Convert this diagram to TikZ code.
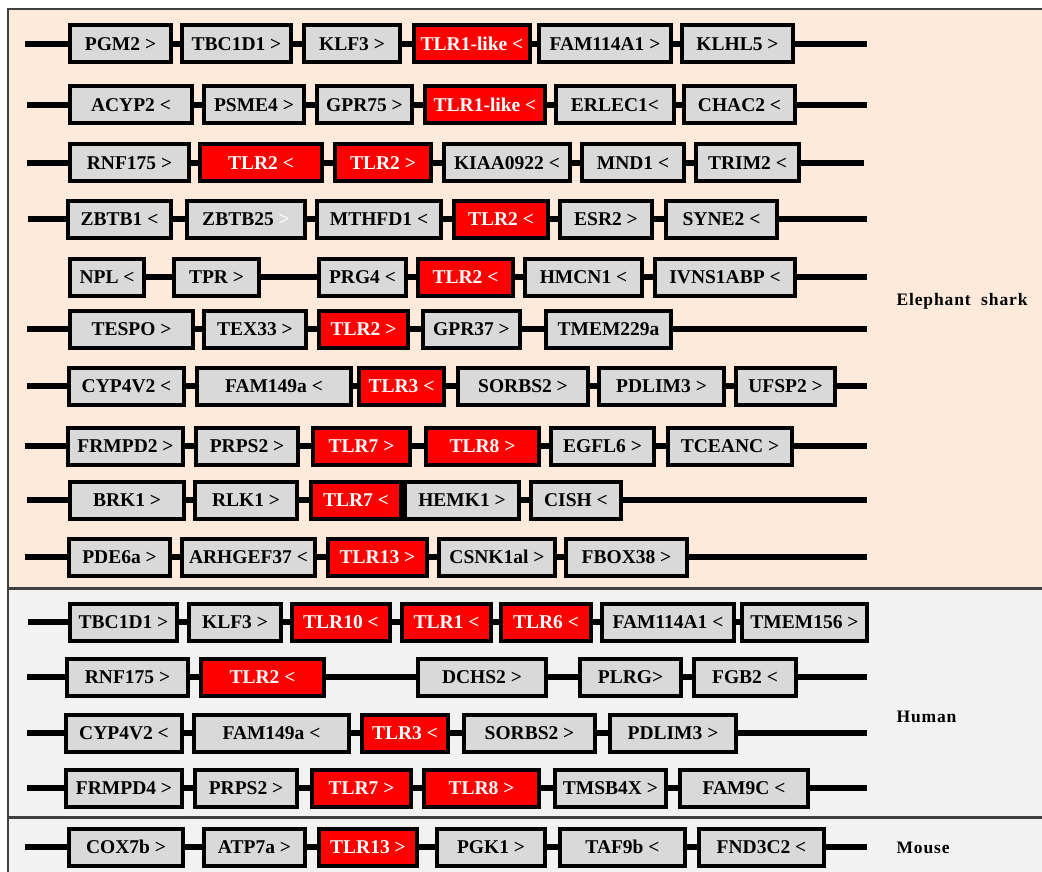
\documentclass[tikz,border=0pt]{standalone}
\usepackage{fontspec}
\setmainfont{Liberation Serif}
\usetikzlibrary{positioning}
\definecolor{sharkbg}{HTML}{FDEADA}
\definecolor{humanbg}{HTML}{F2F2F2}
\definecolor{genegray}{HTML}{D9D9D9}
\definecolor{tlrred}{HTML}{FF0000}

\begin{document}
\begin{tikzpicture}[x=1pt,y=-1pt]
\tikzstyle{gene}=[shape=rectangle,draw=black,line width=4pt,fill=genegray,text=black,inner sep=0pt,minimum height=37pt,font=\fontsize{19.5}{21}\selectfont\bfseries]
\tikzstyle{tlr}=[gene,fill=tlrred,text=white]
\tikzstyle{chrom}=[line width=5.5pt]
\tikzstyle{panel}=[draw=black!75,line width=1.2pt]
\tikzstyle{species}=[anchor=west,font=\fontsize{17.5}{20}\selectfont\bfseries\addfontfeature{LetterSpace=5}]

\useasboundingbox (0,0) rectangle (1042,872);
\path[panel,fill=sharkbg] (8,9) rectangle (1060,588);
\path[panel,fill=humanbg] (8,589) rectangle (1060,817);
\path[panel,fill=humanbg] (8,818) rectangle (1060,890);

% elephant shark
\coordinate (e1s) at (25,44); \coordinate (e1e) at (867,44);
\node[gene] (e1a) at (120.5,44) [minimum width=101pt] {PGM2 >};
\node[gene] (e1b) at (236.5,44) [minimum width=109pt] {TBC1D1 >};
\node[gene] (e1c) at (352,44)   [minimum width=96pt]  {KLF3 >};
\node[tlr]  (e1d) at (472,44)   [minimum width=116pt] {TLR1-like <};
\node[gene] (e1f) at (605,44)   [minimum width=132pt] {FAM114A1 >};
\node[gene] (e1g) at (737.5,44) [minimum width=111pt] {KLHL5 >};

\coordinate (e2s) at (27,105); \coordinate (e2e) at (867,105);
\node[gene] (e2a) at (131,105)   [minimum width=122pt] {ACYP2 <};
\node[gene] (e2b) at (254,105)   [minimum width=100pt] {PSME4 >};
\node[gene] (e2c) at (364.5,105) [minimum width=95pt]  {GPR75 >};
\node[tlr]  (e2d) at (485,105)   [minimum width=120pt] {TLR1-like <};
\node[gene] (e2f) at (615,105)   [minimum width=118pt] {ERLEC1<};
\node[gene] (e2g) at (739.5,105) [minimum width=111pt] {CHAC2 <};

\coordinate (e3s) at (27,163); \coordinate (e3e) at (864,163);
\node[gene] (e3a) at (129.5,163) [minimum width=119pt] {RNF175 >};
\node[tlr]  (e3b) at (261,163)   [minimum width=122pt] {TLR2 <};
\node[tlr]  (e3c) at (383,163)   [minimum width=96pt]  {TLR2 >};
\node[gene] (e3d) at (507,163)   [minimum width=126pt] {KIAA0922 <};
\node[gene] (e3f) at (633,163)   [minimum width=102pt] {MND1 <};
\node[gene] (e3g) at (747.5,163) [minimum width=103pt] {TRIM2 <};

\coordinate (e4s) at (28,219); \coordinate (e4e) at (867,219);
\node[gene] (e4a) at (119.5,219) [minimum width=103pt] {ZBTB1 <};
\node[gene] (e4b) at (246,219)   [minimum width=118pt] {ZBTB25 \textcolor{white}{>}};
\node[gene] (e4c) at (379,219)   [minimum width=124pt] {MTHFD1 <};
\node[tlr]  (e4d) at (501,219)   [minimum width=94pt]  {TLR2 <};
\node[gene] (e4f) at (606,219)   [minimum width=92pt]  {ESR2 >};
\node[gene] (e4g) at (721.5,219) [minimum width=111pt] {SYNE2 <};

\coordinate (e5e) at (867,277);
\node[gene] (e5a) at (107,277)   [minimum width=74pt]  {NPL <};
\node[gene] (e5b) at (216.5,277) [minimum width=85pt]  {TPR >};
\node[gene] (e5c) at (362.5,277) [minimum width=87pt]  {PRG4 <};
\node[tlr]  (e5d) at (465.5,277) [minimum width=95pt]  {TLR2 <};
\node[gene] (e5f) at (583.5,277) [minimum width=117pt] {HMCN1 <};
\node[gene] (e5g) at (725,277)   [minimum width=140pt] {IVNS1ABP <};

\coordinate (e6s) at (27,329); \coordinate (e6e) at (867,329);
\node[gene] (e6a) at (131.5,329) [minimum width=123pt] {TESPO >};
\node[gene] (e6b) at (255,329)   [minimum width=102pt] {TEX33 >};
\node[tlr]  (e6c) at (363.5,329) [minimum width=89pt]  {TLR2 >};
\node[gene] (e6d) at (471.5,329) [minimum width=97pt]  {GPR37 >};
\node[gene] (e6f) at (608.5,329) [minimum width=125pt] {TMEM229a};

\coordinate (e7s) at (27,386); \coordinate (e7e) at (867,386);
\node[gene] (e7a) at (126.5,386) [minimum width=115pt] {CYP4V2 <};
\node[gene] (e7b) at (274,386)   [minimum width=154pt] {FAM149a <};
\node[tlr]  (e7c) at (401.5,386) [minimum width=85pt]  {TLR3 <};
\node[gene] (e7d) at (523,386)   [minimum width=130pt] {SORBS2 >};
\node[gene] (e7f) at (661.5,386) [minimum width=125pt] {PDLIM3 >};
\node[gene] (e7g) at (785.5,386) [minimum width=99pt]  {UFSP2 >};

\coordinate (e8s) at (25,446); \coordinate (e8e) at (867,446);
\node[gene] (e8a) at (125.5,446) [minimum width=115pt] {FRMPD2 >};
\node[gene] (e8b) at (247,446)   [minimum width=102pt] {PRPS2 >};
\node[tlr]  (e8c) at (361.5,446) [minimum width=97pt]  {TLR7 >};
\node[tlr]  (e8d) at (482.5,446) [minimum width=113pt] {TLR8 >};
\node[gene] (e8f) at (602.5,446) [minimum width=103pt] {EGFL6 >};
\node[gene] (e8g) at (730,446)   [minimum width=124pt] {TCEANC >};

\coordinate (e9s) at (27,500); \coordinate (e9e) at (867,500);
\node[gene] (e9a) at (127,500)   [minimum width=114pt] {BRK1 >};
\node[gene] (e9b) at (246,500)   [minimum width=102pt] {RLK1 >};
\node[tlr]  (e9c) at (356,500)   [minimum width=90pt]  {TLR7 <};
\node[gene] (e9d) at (462,500)   [minimum width=114pt] {HEMK1 >};
\node[gene] (e9f) at (576,500)   [minimum width=90pt]  {CISH <};

\coordinate (e10s) at (25,557); \coordinate (e10e) at (867,557);
\node[gene] (e10a) at (119.5,557) [minimum width=101pt] {PDE6a >};
\node[gene] (e10b) at (248.5,557) [minimum width=133pt] {ARHGEF37 <};
\node[tlr]  (e10c) at (377.5,557) [minimum width=99pt]  {TLR13 >};
\node[gene] (e10d) at (497,557)   [minimum width=116pt] {CSNK1al >};
\node[gene] (e10f) at (626.5,557) [minimum width=121pt] {FBOX38 >};

% human
\coordinate (h1s) at (28,622);
\node[gene] (h1a) at (123.5,622) [minimum width=107pt] {TBC1D1 >};
\node[gene] (h1b) at (235,622)   [minimum width=92pt]  {KLF3 >};
\node[tlr]  (h1c) at (341,622)   [minimum width=98pt]  {TLR10 <};
\node[tlr]  (h1d) at (446.5,622) [minimum width=89pt]  {TLR1 <};
\node[tlr]  (h1f) at (546,622)   [minimum width=90pt]  {TLR6 <};
\node[gene] (h1g) at (668,622)   [minimum width=132pt] {FAM114A1 <};
\node[gene] (h1h) at (804.5,622) [minimum width=125pt] {TMEM156 >};

\coordinate (h2s) at (27,677); \coordinate (h2e) at (867,677);
\node[gene] (h2a) at (127.5,677) [minimum width=121pt] {RNF175 >};
\node[tlr]  (h2b) at (262.5,677) [minimum width=123pt] {TLR2 <};
\node[gene] (h2c) at (482,677)   [minimum width=128pt] {DCHS2 >};
\node[gene] (h2d) at (630.5,677) [minimum width=101pt] {PLRG>};
\node[gene] (h2f) at (745,677)   [minimum width=102pt] {FGB2 <};

\coordinate (h3s) at (27,733); \coordinate (h3e) at (867,733);
\node[gene] (h3a) at (124,733)   [minimum width=116pt] {CYP4V2 <};
\node[gene] (h3b) at (271.5,733) [minimum width=155pt] {FAM149a <};
\node[tlr]  (h3c) at (405,733)   [minimum width=86pt]  {TLR3 <};
\node[gene] (h3d) at (529.5,733) [minimum width=131pt] {SORBS2 >};
\node[gene] (h3f) at (673,733)   [minimum width=126pt] {PDLIM3 >};

\coordinate (h4s) at (27,788); \coordinate (h4e) at (867,788);
\node[gene] (h4a) at (124,788)   [minimum width=116pt] {FRMPD4 >};
\node[gene] (h4b) at (246,788)   [minimum width=102pt] {PRPS2 >};
\node[tlr]  (h4c) at (361.5,788) [minimum width=99pt]  {TLR7 >};
\node[tlr]  (h4d) at (481.5,788) [minimum width=115pt] {TLR8 >};
\node[gene] (h4f) at (610.5,788) [minimum width=111pt] {TMSB4X >};
\node[gene] (h4g) at (744,788)   [minimum width=128pt] {FAM9C <};

% mouse
\coordinate (m1s) at (25,847); \coordinate (m1e) at (867,847);
\node[gene] (m1a) at (126,847)   [minimum width=114pt] {COX7b >};
\node[gene] (m1b) at (254.5,847) [minimum width=101pt] {ATP7a >};
\node[tlr]  (m1c) at (368,847)   [minimum width=98pt]  {TLR13 >};
\node[gene] (m1d) at (491,847)   [minimum width=108pt] {PGK1 >};
\node[gene] (m1f) at (622.5,847) [minimum width=125pt] {TAF9b <};
\node[gene] (m1g) at (761.5,847) [minimum width=125pt] {FND3C2 <};

\node[species] (shark) at (893,301) {Elephant\ \ shark};
\node[species] (human) at (893,717) {Human};
\node[species] (mouse) at (893,848) {Mouse};

\path[chrom]
(e1s) edge (e1a) (e1a) edge (e1b) (e1b) edge (e1c) (e1c) edge (e1d) (e1d) edge (e1f) (e1f) edge (e1g) (e1g) edge (e1e)
(e2s) edge (e2a) (e2a) edge (e2b) (e2b) edge (e2c) (e2c) edge (e2d) (e2d) edge (e2f) (e2f) edge (e2g) (e2g) edge (e2e)
(e3s) edge (e3a) (e3a) edge (e3b) (e3b) edge (e3c) (e3c) edge (e3d) (e3d) edge (e3f) (e3f) edge (e3g) (e3g) edge (e3e)
(e4s) edge (e4a) (e4a) edge (e4b) (e4b) edge (e4c) (e4c) edge (e4d) (e4d) edge (e4f) (e4f) edge (e4g) (e4g) edge (e4e)
(e5a) edge (e5b) (e5b) edge (e5c) (e5c) edge (e5d) (e5d) edge (e5f) (e5f) edge (e5g) (e5g) edge (e5e)
(e6s) edge (e6a) (e6a) edge (e6b) (e6b) edge (e6c) (e6c) edge (e6d) (e6d) edge (e6f) (e6f) edge (e6e)
(e7s) edge (e7a) (e7a) edge (e7b) (e7b) edge (e7c) (e7c) edge (e7d) (e7d) edge (e7f) (e7f) edge (e7g) (e7g) edge (e7e)
(e8s) edge (e8a) (e8a) edge (e8b) (e8b) edge (e8c) (e8c) edge (e8d) (e8d) edge (e8f) (e8f) edge (e8g) (e8g) edge (e8e)
(e9s) edge (e9a) (e9a) edge (e9b) (e9b) edge (e9c) (e9d) edge (e9f) (e9f) edge (e9e)
(e10s) edge (e10a) (e10a) edge (e10b) (e10b) edge (e10c) (e10c) edge (e10d) (e10d) edge (e10f) (e10f) edge (e10e)
(h1s) edge (h1a) (h1a) edge (h1b) (h1b) edge (h1c) (h1c) edge (h1d) (h1d) edge (h1f) (h1f) edge (h1g) (h1g) edge (h1h)
(h2s) edge (h2a) (h2a) edge (h2b) (h2b) edge (h2c) (h2c) edge (h2d) (h2d) edge (h2f) (h2f) edge (h2e)
(h3s) edge (h3a) (h3a) edge (h3b) (h3b) edge (h3c) (h3c) edge (h3d) (h3d) edge (h3f) (h3f) edge (h3e)
(h4s) edge (h4a) (h4a) edge (h4b) (h4b) edge (h4c) (h4c) edge (h4d) (h4d) edge (h4f) (h4f) edge (h4g) (h4g) edge (h4e)
(m1s) edge (m1a) (m1a) edge (m1b) (m1b) edge (m1c) (m1c) edge (m1d) (m1d) edge (m1f) (m1f) edge (m1g) (m1g) edge (m1e);
\end{tikzpicture}
\end{document}
